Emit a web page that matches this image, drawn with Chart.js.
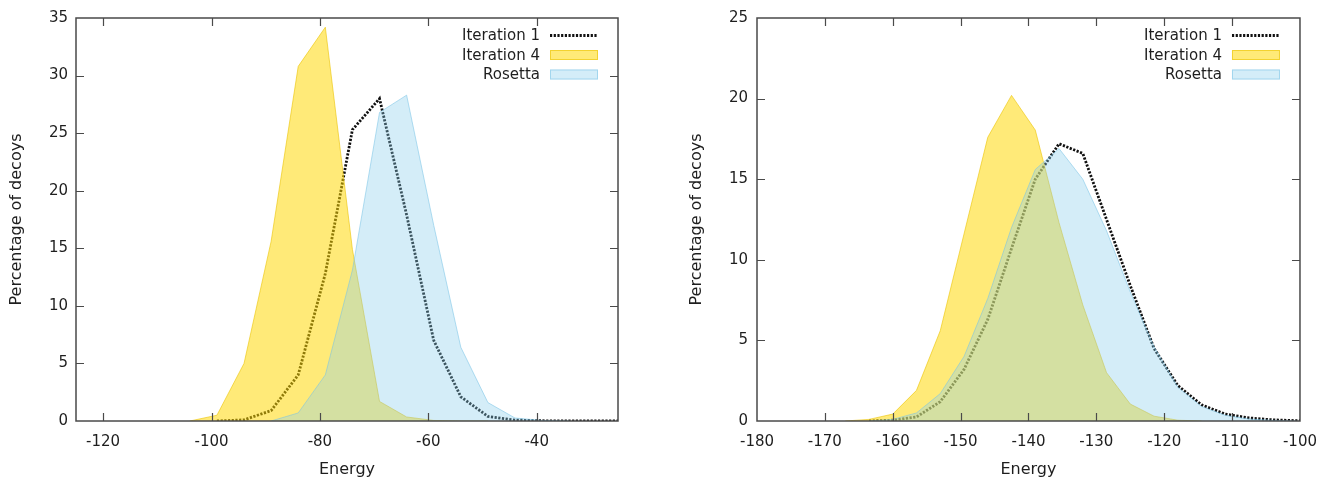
<!DOCTYPE html>
<html><head><meta charset="utf-8">
<script src="https://cdn.jsdelivr.net/npm/chart.js@4.4.1/dist/chart.umd.min.js"></script>
<style>
html,body{margin:0;padding:0;background:#fff;width:1329px;height:479px;overflow:hidden}
canvas{position:absolute;top:0}
#c1{left:0}
#c2{left:680px}
</style></head><body>
<canvas id="c1" width="660" height="479"></canvas>
<canvas id="c2" width="649" height="479"></canvas>
<script>
// ---- text ----
const seriesLabels = ['Iteration 1', 'Iteration 4', 'Rosetta'];
const xTitle = 'Energy';
const yTitle = 'Percentage of decoys';

// ---- left panel ----
const leftEnergy = [-124,-119,-114,-109,-104,-99,-94,-89,-84,-79,-74,-69,-64,-59,-54,-49,-44,-39,-34,-29,-24];
const leftIter1  = [null,null,null,null,null,0,0.1,0.9,4.0,12.8,25.3,28.0,17.9,7.0,2.1,0.4,0.08,0.02,0.01,0,0];
const leftIter4  = [null,null,null,null,0,0.5,5.0,15.6,30.8,34.2,14.9,1.7,0.35,0.05,0,0,null,null,null,null,null];
const leftRosetta= [null,null,null,null,null,null,null,0,0.7,4.0,13.1,26.8,28.3,17.0,6.4,1.6,0.26,0.05,0,null,null];
const leftXTicks = [-120,-100,-80,-60,-40];
const leftYTicks = [0,5,10,15,20,25,30,35];

// ---- right panel ----
const rightEnergy = [-167,-163.5,-160,-156.5,-153,-149.5,-146,-142.5,-139,-135.5,-132,-128.5,-125,-121.5,-118,-114.5,-111,-107.5,-104,-100.5,-97];
const rightIter1  = [null,0,0.05,0.25,1.2,3.2,6.3,10.7,15.0,17.2,16.6,12.5,8.4,4.5,2.2,1.0,0.43,0.19,0.07,0.02,0];
const rightIter4  = [0,0.1,0.43,1.9,5.6,11.6,17.6,20.2,18.05,12.3,7.2,3.0,1.05,0.3,0.05,0,null,null,null,null,null];
const rightRosetta= [null,0,0.1,0.5,1.7,4.0,7.6,12.0,15.6,16.9,15.0,11.8,8.0,4.6,2.1,0.9,0.35,0.12,0.04,0,null];
const rightXTicks = [-180,-170,-160,-150,-140,-130,-120,-110,-100];
const rightYTicks = [0,5,10,15,20,25];

// ---- styles ----
const FONT = {family: "'DejaVu Sans', sans-serif", size: 15};
const TITLE_FONT = {family: "'DejaVu Sans', sans-serif", size: 16};
const TEXT = '#1e1e1e';
const styles = {
  'Iteration 1': {fill:false, borderColor:'#111', borderWidth:2.8, borderDash:[2.2,1.5], backgroundColor:'transparent'},
  'Iteration 4': {fill:'origin', backgroundColor:'rgba(255,215,0,0.53)', borderColor:'rgba(235,195,0,0.6)', borderWidth:1},
  'Rosetta':     {fill:'origin', backgroundColor:'rgba(135,206,235,0.36)', borderColor:'rgba(120,195,230,0.55)', borderWidth:1}
};

function pts(xs, ys){ return xs.map((x,i)=>({x:x, y:ys[i]})); }

const framePlugin = {
  id: 'gnuframe',
  afterDraw(chart) {
    const {ctx, chartArea:{left,right,top,bottom}, scales:{x,y}} = chart;
    ctx.save();
    ctx.strokeStyle = '#4a4a4a';
    ctx.lineWidth = 1.5;
    ctx.strokeRect(left, top, right-left, bottom-top);
    ctx.lineWidth = 1.2;
    const tl = 8;
    x.ticks.forEach(t => {
      const p = Math.round(x.getPixelForValue(t.value)) + 0.5;
      if (p <= left + 2 || p >= right - 2) return;
      ctx.beginPath();
      ctx.moveTo(p, bottom); ctx.lineTo(p, bottom - tl);
      ctx.moveTo(p, top); ctx.lineTo(p, top + tl);
      ctx.stroke();
    });
    y.ticks.forEach(t => {
      const p = Math.round(y.getPixelForValue(t.value)) + 0.5;
      if (p <= top + 2 || p >= bottom - 2) return;
      ctx.beginPath();
      ctx.moveTo(left, p); ctx.lineTo(left + tl, p);
      ctx.moveTo(right, p); ctx.lineTo(right - tl, p);
      ctx.stroke();
    });
    // legend (gnuplot style: text right-aligned, sample on the right)
    ctx.font = `${FONT.size}px ${FONT.family}`;
    ctx.textAlign = 'right';
    ctx.textBaseline = 'middle';
    const rows = [17.5, 37, 56.5];
    seriesLabels.forEach((lab, i) => {
      const yc = top + rows[i];
      ctx.fillStyle = TEXT;
      ctx.fillText(lab, right - 78, yc + 1);
      const st = styles[lab];
      const x0 = right - 68, x1 = right - 20;
      if (st.fill === false) {
        ctx.save();
        ctx.strokeStyle = st.borderColor;
        ctx.lineWidth = st.borderWidth;
        ctx.setLineDash(st.borderDash);
        ctx.beginPath(); ctx.moveTo(x0, yc); ctx.lineTo(x1, yc); ctx.stroke();
        ctx.restore();
      } else {
        ctx.fillStyle = st.backgroundColor;
        ctx.fillRect(x0, yc - 5, x1 - x0, 10);
        ctx.strokeStyle = st.borderColor;
        ctx.lineWidth = 1;
        ctx.strokeRect(x0 + 0.5, yc - 4.5, x1 - x0 - 1, 9);
      }
    });
    ctx.restore();
  }
};

function makeChart(canvas, cfg) {
  const order = ['Rosetta', 'Iteration 4', 'Iteration 1']; // first one drawn on top
  const data = {'Iteration 1': cfg.iter1, 'Iteration 4': cfg.iter4, 'Rosetta': cfg.rosetta};
  const datasets = order.map(lab => Object.assign({
    label: lab,
    data: pts(cfg.energy, data[lab]),
    pointRadius: 0,
    tension: 0,
    spanGaps: false
  }, styles[lab]));
  return new Chart(canvas, {
    type: 'line',
    data: {datasets},
    options: {
      responsive: false,
      animation: false,
      events: [],
      layout: {padding: {top: 18, right: cfg.padRight, left: 0, bottom: 0}},
      plugins: {legend: {display: false}, tooltip: {enabled: false}},
      scales: {
        x: {
          type: 'linear', min: cfg.xMin, max: cfg.xMax,
          afterBuildTicks: s => { s.ticks = cfg.xTicks.map(v => ({value: v})); },
          afterFit: s => { s.height = 58; },
          grid: {display: false, drawTicks: false},
          border: {display: false},
          ticks: {font: FONT, color: TEXT, padding: 12, autoSkip: false, maxRotation: 0, callback: v => String(v)},
          title: {display: true, text: xTitle, font: TITLE_FONT, color: TEXT, padding: {top: 0, bottom: 0}}
        },
        y: {
          type: 'linear', min: 0, max: cfg.yMax,
          afterBuildTicks: s => { s.ticks = cfg.yTicks.map(v => ({value: v})); },
          afterFit: s => { s.width = cfg.yWidth; },
          grid: {display: false, drawTicks: false},
          border: {display: false},
          ticks: {font: FONT, color: TEXT, padding: cfg.yPad, callback: v => String(v)},
          title: {display: true, text: yTitle, font: TITLE_FONT, color: TEXT, padding: {top: 7, bottom: 0}}
        }
      }
    },
    plugins: [framePlugin]
  });
}

makeChart(document.getElementById('c1'), {
  energy: leftEnergy, iter1: leftIter1, iter4: leftIter4, rosetta: leftRosetta,
  xMin: -125, xMax: -25, yMax: 35, xTicks: leftXTicks, yTicks: leftYTicks,
  padRight: 42, yWidth: 76, yPad: 8
});
makeChart(document.getElementById('c2'), {
  energy: rightEnergy, iter1: rightIter1, iter4: rightIter4, rosetta: rightRosetta,
  xMin: -180, xMax: -100, yMax: 25, xTicks: rightXTicks, yTicks: rightYTicks,
  padRight: 29, yWidth: 77, yPad: 9
});
</script>
</body></html>
